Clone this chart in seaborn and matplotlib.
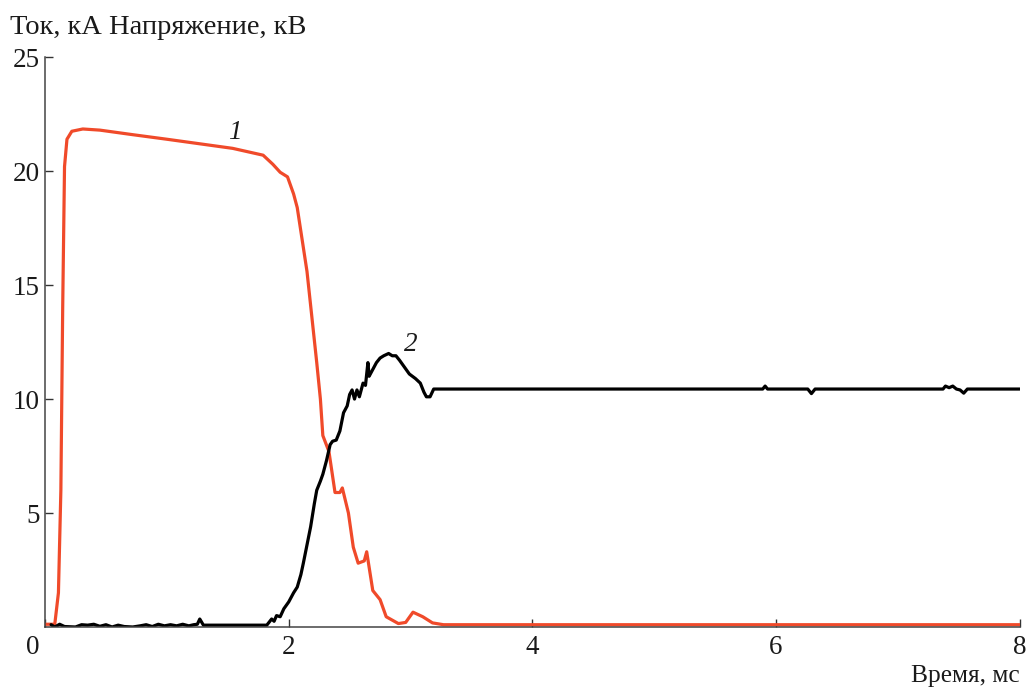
import matplotlib
matplotlib.use("Agg")
import matplotlib.pyplot as plt
import matplotlib.transforms as mtransforms
import pandas as pd
import seaborn as sns

# Curve 1 (current, kA)
t_current = [0.00, 0.08, 0.11, 0.13, 0.145, 0.16, 0.18, 0.22, 0.31, 0.45, 0.72, 1.00,
             1.27, 1.54, 1.79, 1.87, 1.93, 1.99, 2.04, 2.07, 2.11, 2.15, 2.19, 2.23,
             2.26, 2.28, 2.33, 2.38, 2.42, 2.44, 2.49, 2.53, 2.57, 2.62, 2.64, 2.69,
             2.75, 2.80, 2.85, 2.90, 2.96, 3.02, 3.10, 3.18, 3.27, 4.00, 8.00]
current = [0.12, 0.12, 1.5, 6.0, 14.0, 20.2, 21.4, 21.75, 21.85, 21.8, 21.6, 21.4,
           21.2, 21.0, 20.7, 20.3, 19.95, 19.75, 19.0, 18.4, 17.0, 15.6, 13.6, 11.6,
           10.0, 8.4, 7.7, 5.9, 5.9, 6.1, 5.0, 3.5, 2.8, 2.9, 3.3, 1.6,
           1.2, 0.45, 0.3, 0.15, 0.2, 0.65, 0.45, 0.18, 0.1, 0.1, 0.1]

# Curve 2 (voltage, kV)
t_voltage = [0.05, 0.08, 0.12, 0.16, 0.25, 0.30, 0.35, 0.40, 0.45, 0.50, 0.55, 0.60,
             0.65, 0.72, 0.78, 0.83, 0.88, 0.93, 0.98, 1.03, 1.08, 1.13, 1.18, 1.22,
             1.25, 1.27, 1.30, 1.82, 1.86, 1.88, 1.90, 1.93, 1.96, 2.00, 2.04, 2.07,
             2.10, 2.12, 2.15, 2.18, 2.21, 2.23, 2.26, 2.28, 2.31, 2.34, 2.36, 2.39,
             2.42, 2.45, 2.48, 2.50, 2.52, 2.54, 2.56, 2.58, 2.61, 2.63, 2.65, 2.66,
             2.68, 2.72, 2.75, 2.78, 2.82, 2.85, 2.88, 2.91, 2.95, 2.99, 3.04, 3.08,
             3.11, 3.13, 3.16, 3.19, 5.89, 5.91, 5.93, 6.26, 6.29, 6.32, 7.37, 7.39,
             7.42, 7.45, 7.48, 7.51, 7.54, 7.57, 8.00]
voltage = [0.10, 0.00, 0.12, 0.02, 0.00, 0.10, 0.08, 0.12, 0.03, 0.10, 0.00, 0.08,
           0.02, 0.00, 0.05, 0.10, 0.02, 0.12, 0.05, 0.10, 0.05, 0.12, 0.05, 0.10,
           0.12, 0.35, 0.08, 0.08, 0.35, 0.25, 0.50, 0.45, 0.80, 1.10, 1.50, 1.75,
           2.30, 2.80, 3.60, 4.40, 5.40, 6.00, 6.40, 6.70, 7.30, 8.00, 8.15, 8.20,
           8.60, 9.40, 9.70, 10.2, 10.4, 10.0, 10.4, 10.1, 10.7, 10.6, 11.6, 11.0,
           11.2, 11.6, 11.8, 11.9, 12.0, 11.9, 11.9, 11.7, 11.4, 11.1, 10.9, 10.7,
           10.3, 10.1, 10.1, 10.44, 10.44, 10.57, 10.44, 10.44, 10.24, 10.44, 10.44, 10.57,
           10.5, 10.57, 10.44, 10.4, 10.26, 10.44, 10.44]

x_ticks = [0, 2, 4, 6, 8]
y_ticks = [5, 10, 15, 20, 25]

sns.set_theme(style="ticks")
plt.rcParams["font.family"] = ["Liberation Serif", "DejaVu Serif"]
plt.rcParams["font.size"] = 19

fig = plt.figure(figsize=(10.28, 6.89), dpi=100)
ax = fig.add_axes([0.0438, 0.090, 0.9482, 0.827])

df1 = pd.DataFrame({"t": t_current, "v": current})
df2 = pd.DataFrame({"t": t_voltage, "v": voltage})
sns.lineplot(data=df1, x="t", y="v", ax=ax, color="#F04A2A", linewidth=2.3,
             estimator=None, sort=False)
sns.lineplot(data=df2, x="t", y="v", ax=ax, color="black", linewidth=2.3,
             estimator=None, sort=False)

ax.set_xlim(0, 8)
ax.set_ylim(0, 25)
ax.set_xticks(x_ticks)
ax.set_yticks(y_ticks)
ax.set_xlabel("")
ax.set_ylabel("")
ax.tick_params(direction="in", length=6, width=1.0, colors="#333333",
               labelsize=19.5, labelcolor="#1a1a1a")
ax.tick_params(axis="x", pad=6)
ax.tick_params(axis="y", pad=4)
for side in ("top", "right"):
    ax.spines[side].set_visible(False)
for side in ("left", "bottom"):
    ax.spines[side].set_color("#444444")
    ax.spines[side].set_linewidth(1.1)

# shift the "0" label left of the y-axis
lbl0 = ax.get_xticklabels()[0]
lbl0.set_transform(lbl0.get_transform() +
                   mtransforms.ScaledTranslation(-12 / 100, 0, fig.dpi_scale_trans))

ax.text(1.56, 21.7, "1", fontsize=19.5, style="italic", color="#1a1a1a",
        ha="center", va="center")
ax.text(3.0, 12.4, "2", fontsize=19.5, style="italic", color="#1a1a1a",
        ha="center", va="center")

fig.text(10 / 1028, 1 - 27 / 689, "Ток, кА Напряжение, кВ", fontsize=20.5,
         ha="left", va="center", color="#1a1a1a")
fig.text(1020 / 1028, 1 - 676 / 689, "Время, мс", fontsize=18.3,
         ha="right", va="center", color="#1a1a1a")

fig.savefig("out.png", dpi=100, facecolor="white")
